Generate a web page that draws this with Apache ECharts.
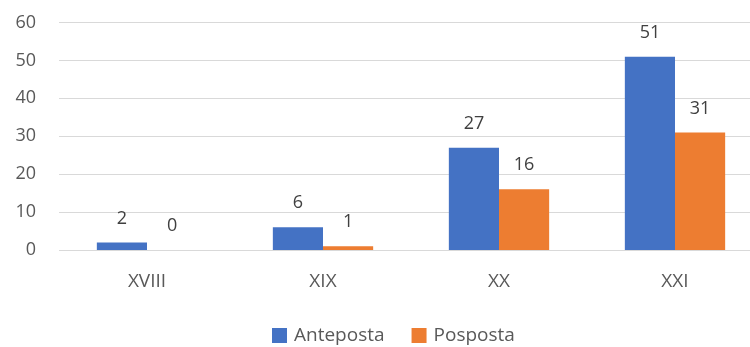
<!DOCTYPE html>
<html>
<head>
<meta charset="utf-8">
<script src="https://cdn.jsdelivr.net/npm/echarts@6/dist/echarts.min.js"></script>
<style>
html,body{margin:0;padding:0;background:#fff;}
#chart{width:750px;height:347px;}
</style>
</head>
<body>
<div id="chart"></div>
<script>
// 数据
var categories = ['XVIII', 'XIX', 'XX', 'XXI'];
var anteposta = [2, 6, 27, 51];
var posposta = [0, 1, 16, 31];
var seriesNames = ['Anteposta', 'Posposta'];

var fontFam = '"Open Sans", "Liberation Sans", sans-serif';
var myChart = echarts.init(document.getElementById('chart'));

var labelStyle = {
    show: true,
    position: 'top',
    distance: 15,
    color: '#404040',
    fontSize: 18,
    fontFamily: fontFam
};

var option = {
    animation: false,
    color: ['#4472C4', '#ED7D31'],
    grid: {
        left: 59,
        right: -13,
        top: 22.5,
        bottom: 97,
        outerBoundsMode: 'none',
        containLabel: false
    },
    legend: {
        data: seriesNames,
        left: 267,
        top: 321,
        itemWidth: 15,
        itemHeight: 15,
        itemGap: 27,
        icon: 'rect',
        textStyle: {color: '#595959', fontSize: 19, fontFamily: fontFam, padding: [0, 0, 0, 2]}
    },
    xAxis: {
        type: 'category',
        data: categories,
        axisLine: {show: false},
        axisTick: {show: false},
        axisLabel: {color: '#595959', fontSize: 19, fontFamily: fontFam, margin: 22}
    },
    yAxis: {
        type: 'value',
        min: 0,
        max: 60,
        interval: 10,
        axisLine: {show: false},
        axisTick: {show: false},
        splitLine: {lineStyle: {color: '#D9D9D9', width: 1}},
        axisLabel: {color: '#595959', fontSize: 18, fontFamily: fontFam, margin: 23}
    },
    series: [
        {
            name: seriesNames[0],
            type: 'bar',
            data: anteposta,
            barGap: '0%',
            barCategoryGap: '43%',
            label: labelStyle
        },
        {
            name: seriesNames[1],
            type: 'bar',
            data: posposta,
            label: labelStyle
        }
    ]
};
myChart.setOption(option);
</script>
</body>
</html>
